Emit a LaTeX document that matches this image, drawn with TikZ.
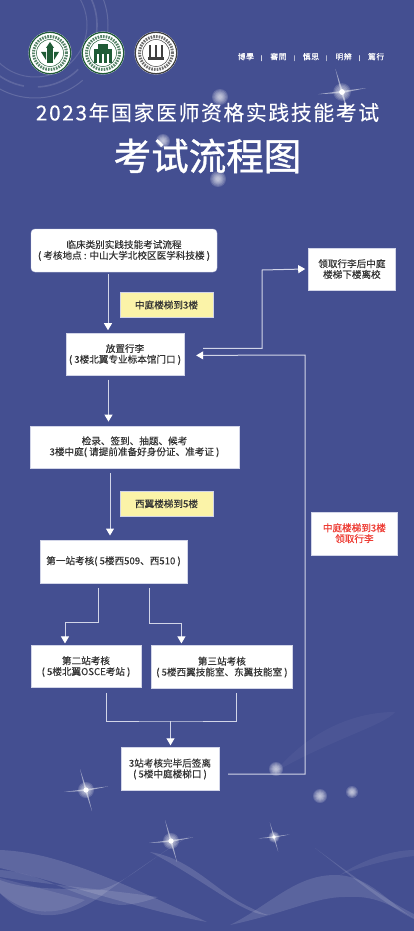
\documentclass[tikz,border=0pt]{standalone}
\usepackage{fontspec}
\setmainfont{Noto Sans CJK SC}[FakeBold=0.25]
\newfontfamily\mottofont{Noto Sans CJK TC}[LetterSpace=8,FakeBold=0.3]
\newfontfamily\titlefont{Noto Sans CJK SC}[LetterSpace=8,FakeBold=0.2]
\newfontfamily\headfont{Noto Sans CJK SC}[FakeBold=1]
\usetikzlibrary{arrows.meta,positioning}
\definecolor{bgcol}{HTML}{444F91}
\definecolor{inkcol}{HTML}{333333}
\definecolor{notecol}{HTML}{FBF3A8}
\definecolor{linecol}{HTML}{D2D5E8}
\definecolor{sealcol}{HTML}{1F5B36}
\definecolor{redcol}{HTML}{EE3A32}
\newcommand{\glow}[3]{% x, y, radius
  \foreach \k in {1,0.85,0.7,0.55,0.4,0.25}
    \fill[white,opacity=0.16] (#1,#2) circle ({#3*\k});}
\newcommand{\sparkle}[3]{% x, y, size
  \fill[white,opacity=0.5] (#1-1.1*#3,#2-0.1*#3) -- (#1,#2+0.05*#3) -- (#1+1.1*#3,#2+0.18*#3) -- (#1,#2-0.05*#3) -- cycle;
  \fill[white,opacity=0.5] (#1-0.3*#3,#2+1.05*#3) -- (#1+0.05*#3,#2) -- (#1+0.3*#3,#2-1.05*#3) -- (#1-0.05*#3,#2) -- cycle;
  \glow{#1}{#2}{0.4*#3}
  \fill[white] (#1,#2) circle ({0.13*#3});}
\newcommand{\sealdisc}[3]{% x, y, ring colour
  \fill[white] (#1,#2) circle (21.5);
  \draw[#3,line width=1.2pt] (#1,#2) circle (20.7);
  \draw[#3,line width=3pt,opacity=0.75,dash pattern=on 1.6pt off 1.1pt] (#1,#2) circle (16.5);
  \draw[#3,line width=0.5pt] (#1,#2) circle (13.5);}
\begin{document}
\begin{tikzpicture}[x=1pt,y=1pt,font=\fontsize{9.6}{10.8}\selectfont,
  box/.style={draw=linecol,line width=0.4pt,fill=white,text=inkcol,align=center,inner sep=0pt},
  note/.style={box,fill=notecol,minimum width=93pt,minimum height=25pt},
  link/.style={draw=linecol,line width=1pt},
  flow/.style={link,-{Triangle[width=8pt,length=7pt,fill=white,color=white]}}]
\useasboundingbox (0,0) rectangle (414,-931);
\fill[bgcol] (0,0) rectangle (414,-931);
% rings at the top left
\begin{scope}
  \clip (0,0) rectangle (130,-110);
  \draw[white,opacity=0.14,line width=1pt] (35,-25) circle (52);
  \draw[white,opacity=0.14,line width=1.6pt,dash pattern=on 45pt off 14pt] (35,-25) circle (62);
  \draw[white,opacity=0.16,line width=1pt,dash pattern=on 90pt off 12pt] (35,-25) circle (73);
\end{scope}
% waves at the foot
\begin{scope}
  \clip (0,-700) rectangle (414,-931);
  \fill[white,opacity=0.14] (0,-850) .. controls (50,-852) and (100,-872) .. (207,-922) .. controls (150,-912) and (70,-885) .. (0,-868) -- cycle;
  \fill[white,opacity=0.12] (0,-870) .. controls (40,-872) and (80,-900) .. (120,-905) .. controls (135,-905) and (150,-900) .. (158,-897) .. controls (110,-890) and (50,-885) .. (0,-877) -- cycle;
  \fill[white,opacity=0.13] (0,-893) .. controls (30,-925) and (70,-920) .. (105,-893) .. controls (130,-875) and (165,-850) .. (190,-836) .. controls (160,-850) and (120,-890) .. (95,-890) .. controls (60,-888) and (25,-890) .. (0,-880) -- cycle;
  \fill[white,opacity=0.10] (0,-893) .. controls (30,-918) and (60,-915) .. (85,-900) -- (0,-878) -- cycle;
  \fill[white,opacity=0.14] (150,-852) .. controls (190,-858) and (215,-890) .. (245,-905) .. controls (255,-910) and (265,-915) .. (270,-915) .. controls (245,-917) and (205,-880) .. (150,-852) -- cycle;
  \fill[white,opacity=0.12] (230,-925) .. controls (270,-905) and (295,-875) .. (335,-875) .. controls (370,-875) and (390,-905) .. (414,-918) .. controls (390,-905) and (375,-895) .. (345,-897) .. controls (315,-897) and (290,-912) .. (230,-925) -- cycle;
  \fill[white,opacity=0.13] (315,-848) .. controls (345,-870) and (385,-900) .. (414,-914) -- (414,-919) .. controls (385,-905) and (350,-875) .. (315,-848) -- cycle;
  \fill[white,opacity=0.07] (340,-875) .. controls (365,-858) and (395,-850) .. (414,-850) -- (414,-856) .. controls (395,-858) and (365,-865) .. (340,-875) -- cycle;
  \fill[white,opacity=0.04] (275,-772) .. controls (310,-730) and (355,-712) .. (395,-712) .. controls (385,-725) and (330,-740) .. (275,-772) -- cycle;
\end{scope}
% sparkles
\glow{220}{-97}{8}
\sparkle{342}{-92}{22}
\glow{163}{-141}{7}
\glow{218}{-179}{8}
\sparkle{86}{-790}{20}
\sparkle{171}{-841}{20}
\sparkle{274}{-837}{14}
\glow{276}{-769}{7}
\glow{320}{-796}{7}
\glow{352}{-792}{6}
% seals
\sealdisc{50}{-53}{sealcol}
\sealdisc{103}{-53}{sealcol}
\sealdisc{156}{-53}{black!75}
\fill[sealcol] (47,-63) rectangle (53,-47); \fill[sealcol] (50,-42) -- (54,-48) -- (46,-48) -- cycle;
\fill[sealcol] (41,-52) -- (46,-60) -- (46,-52) -- cycle; \fill[sealcol] (59,-52) -- (54,-60) -- (54,-52) -- cycle;
\fill[sealcol] (94,-63) rectangle (112,-49); \fill[sealcol] (98,-49) rectangle (108,-44);
\fill[white] (97,-63) rectangle (99,-54); \fill[white] (102,-63) rectangle (104,-54); \fill[white] (107,-63) rectangle (109,-54);
\fill[black!75] (148,-60) rectangle (164,-57); \fill[black!75] (149,-57) rectangle (151,-45); \fill[black!75] (155,-57) rectangle (157,-45); \fill[black!75] (161,-57) rectangle (163,-45);
% headings
\node[text=white,font=\fontsize{7.8}{9}\mottofont] (motto) at (311,-57) {博學\hspace{7pt}{\tiny|}\hspace{8pt}審問\hspace{7pt}{\tiny|}\hspace{8pt}慎思\hspace{7pt}{\tiny|}\hspace{8pt}明辨\hspace{7pt}{\tiny|}\hspace{8pt}篤行};
\node[text=white,inner sep=0pt,font=\fontsize{20.8}{24}\titlefont] (subject) at (207.5,-112.5) {2023年国家医师资格实践技能考试};
\node[text=white,inner sep=0pt,font=\fontsize{37.5}{40}\headfont] (heading) at (207.5,-156) {考试流程图};
% flow boxes
\node[box,rounded corners=4pt,minimum width=186pt,minimum height=43pt] (intro) at (124,-250.5) {临床类别实践技能考试流程\\( 考核地点 : 中山大学北校区医学科技楼 )};
\node[note,below=20pt of intro,xshift=42.5pt] (stairs) {中庭楼梯到3楼};
\node[box,minimum width=118pt,minimum height=42pt,below=61pt of intro,xshift=1pt] (bag) {放置行李\\( 3楼北翼专业标本馆门口 )};
\node[box,minimum width=87pt,minimum height=42pt,right=91pt of intro,yshift=-18.5pt] (leave) {领取行李后中庭\\楼梯下楼离校};
\node[box,minimum width=209pt,minimum height=42pt,below=50pt of bag,xshift=9.5pt] (check) {检录、签到、抽题、候考\\3楼中庭( 请提前准备好身份证、准考证 )};
\node[note,below=23pt of check,xshift=32pt] (wing) {西翼楼梯到5楼};
\node[box,minimum width=147pt,minimum height=43pt,below=71.5pt of check,xshift=-21pt] (first) {第一站考核( 5楼西509、西510 )};
\node[box,text=redcol,minimum width=86pt,minimum height=43pt,right=124pt of first,yshift=28pt] (fetch) {中庭楼梯到3楼\\领取行李};
\node[box,minimum width=110pt,minimum height=42pt,below=62.5pt of first,xshift=-27.5pt] (second) {第二站考核\\( 5楼北翼OSCE考站 )};
\node[box,minimum width=141pt,minimum height=43pt,right=10pt of second,yshift=-0.5pt] (third) {第三站考核\\( 5楼西翼技能室、东翼技能室 )};
\node[box,minimum width=98pt,minimum height=43pt,below=59.5pt of second,xshift=84pt] (signout) {3站考核完毕后签离\\( 5楼中庭楼梯口 )};
\coordinate (joinpt) at (170.5,-721);
\coordinate (backpt) at (305,-355);
\coordinate (leavept) at (262,-270);
% connectors
\draw[flow] ([xshift=-16pt,yshift=-2pt]intro.south) -- ([xshift=-17pt,yshift=3pt]bag.north);
\draw[flow] ([xshift=-16.5pt,yshift=-4pt]bag.south) -- ([xshift=-26pt,yshift=4pt]check.north);
\draw[flow] ([xshift=-24.5pt,yshift=-5pt]check.south) -- ([xshift=-3.5pt,yshift=4pt]first.north);
\draw[flow] ([xshift=-15.5pt,yshift=-5pt]first.south) |- ++(-16.5pt,-35pt) -| ([xshift=-21pt,yshift=2pt]second.north);
\draw[flow] ([xshift=35.5pt,yshift=-5pt]first.south) |- ++(16pt,-35.5pt) -| ([xshift=-40.5pt,yshift=2pt]third.north);
\draw[link] ([xshift=20pt,yshift=-5pt]second.south) |- (joinpt) -| ([xshift=14.5pt,yshift=-4.5pt]third.south);
\draw[flow] (joinpt) -- ([xshift=0.5pt,yshift=2pt]signout.north);
\draw[flow] ([xshift=9pt,yshift=-5pt]signout.east) -| (backpt) -- ([xshift=12pt,yshift=-1pt]bag.east);
\draw[flow] ([xshift=19pt,yshift=6pt]bag.east) -| (leavept) -- ([xshift=-3pt]leave.west);
\end{tikzpicture}
\end{document}
